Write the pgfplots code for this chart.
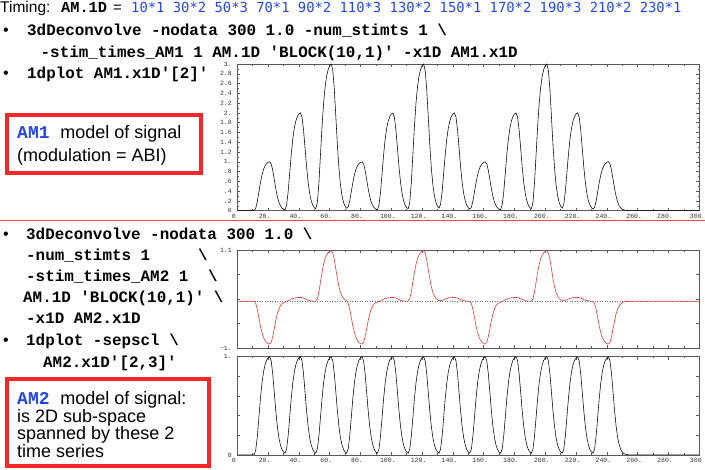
\documentclass[border=0pt]{standalone}
\usepackage{pgfplots}
\pgfplotsset{compat=1.18}
\usepackage{pgfplotstable}
\usepackage{fontspec}
\setmainfont{Liberation Sans}
\newfontfamily\cour{Liberation Mono}
\newfontfamily\dvmono{DejaVu Sans Mono}
\definecolor{blu}{RGB}{35,70,235}
\definecolor{boxred}{RGB}{245,40,40}
\definecolor{curvered}{RGB}{228,72,62}
\newcommand{\cmd}{\cour\bfseries\fontsize{15.9}{18}\selectfont}
\newcommand{\tickf}{\cour\fontsize{6.5}{7}\selectfont}
\newcommand{\bul}{\fontsize{16}{18}\selectfont\textbullet}
\newcommand{\q}{{\textquotesingle}}

\pgfplotstableread{
t am1 base am2
0 0 0 0
10 0 0 0
11 .004 .004 -.003
12 .054 .054 -.049
13 .188 .188 -.173
14 .378 .378 -.347
15 .570 .570 -.523
16 .728 .728 -.668
17 .843 .843 -.772
18 .917 .917 -.841
19 .963 .963 -.883
20 .989 .989 -.907
21 1.000 1.000 -.916
22 .958 .958 -.878
23 .827 .827 -.758
24 .639 .639 -.586
25 .448 .448 -.411
26 .290 .290 -.266
27 .176 .176 -.161
28 .101 .101 -.093
29 .056 .056 -.051
30 .030 .030 -.027
31 .023 .019 -.014
32 .115 .061 -.003
33 .380 .192 .012
34 .758 .380 .030
35 1.141 .571 .047
36 1.457 .729 .060
37 1.685 .843 .070
38 1.835 .917 .076
39 1.926 .963 .080
40 1.978 .989 .082
41 1.999 1.000 .083
42 1.915 .958 .080
43 1.654 .827 .069
44 1.278 .639 .053
45 .896 .448 .037
46 .580 .290 .024
47 .352 .176 .015
48 .203 .101 .008
49 .112 .056 .005
50 .060 .030 .002
51 .042 .019 .005
52 .176 .061 .059
53 .572 .192 .204
54 1.138 .380 .410
55 1.712 .571 .618
56 2.186 .729 .789
57 2.528 .843 .913
58 2.752 .917 .994
59 2.889 .963 1.043
60 2.967 .989 1.072
61 2.999 1.000 1.083
62 2.873 .958 1.037
63 2.480 .827 .896
64 1.917 .639 .692
65 1.344 .448 .485
66 .870 .290 .314
67 .528 .176 .191
68 .304 .101 .110
69 .168 .056 .061
70 .089 .030 .032
71 .050 .019 .013
72 .077 .061 -.041
73 .200 .192 -.168
74 .384 .380 -.345
75 .573 .571 -.522
76 .730 .729 -.667
77 .843 .843 -.772
78 .917 .917 -.841
79 .963 .963 -.883
80 .989 .989 -.907
81 1.000 1.000 -.916
82 .958 .958 -.878
83 .827 .827 -.758
84 .639 .639 -.586
85 .448 .448 -.411
86 .290 .290 -.266
87 .176 .176 -.161
88 .101 .101 -.093
89 .056 .056 -.051
90 .030 .030 -.027
91 .023 .019 -.014
92 .115 .061 -.003
93 .380 .192 .012
94 .758 .380 .030
95 1.141 .571 .047
96 1.457 .729 .060
97 1.685 .843 .070
98 1.835 .917 .076
99 1.926 .963 .080
100 1.978 .989 .082
101 1.999 1.000 .083
102 1.915 .958 .080
103 1.654 .827 .069
104 1.278 .639 .053
105 .896 .448 .037
106 .580 .290 .024
107 .352 .176 .015
108 .203 .101 .008
109 .112 .056 .005
110 .060 .030 .002
111 .042 .019 .005
112 .176 .061 .059
113 .572 .192 .204
114 1.138 .380 .410
115 1.712 .571 .618
116 2.186 .729 .789
117 2.528 .843 .913
118 2.752 .917 .994
119 2.889 .963 1.043
120 2.967 .989 1.072
121 2.999 1.000 1.083
122 2.873 .958 1.037
123 2.480 .827 .896
124 1.917 .639 .692
125 1.344 .448 .485
126 .870 .290 .314
127 .528 .176 .191
128 .304 .101 .110
129 .168 .056 .061
130 .089 .030 .032
131 .054 .019 .017
132 .130 .061 .013
133 .388 .192 .020
134 .762 .380 .034
135 1.143 .571 .049
136 1.458 .729 .061
137 1.686 .843 .070
138 1.835 .917 .076
139 1.926 .963 .080
140 1.978 .989 .082
141 1.999 1.000 .083
142 1.915 .958 .080
143 1.654 .827 .069
144 1.278 .639 .053
145 .896 .448 .037
146 .580 .290 .024
147 .352 .176 .015
148 .203 .101 .008
149 .112 .056 .005
150 .060 .030 .002
151 .035 .019 -.002
152 .069 .061 -.049
153 .196 .192 -.172
154 .382 .380 -.347
155 .572 .571 -.523
156 .729 .729 -.668
157 .843 .843 -.772
158 .917 .917 -.841
159 .963 .963 -.883
160 .989 .989 -.907
161 1.000 1.000 -.916
162 .958 .958 -.878
163 .827 .827 -.758
164 .639 .639 -.586
165 .448 .448 -.411
166 .290 .290 -.266
167 .176 .176 -.161
168 .101 .101 -.093
169 .056 .056 -.051
170 .030 .030 -.027
171 .023 .019 -.014
172 .115 .061 -.003
173 .380 .192 .012
174 .758 .380 .030
175 1.141 .571 .047
176 1.457 .729 .060
177 1.685 .843 .070
178 1.835 .917 .076
179 1.926 .963 .080
180 1.978 .989 .082
181 1.999 1.000 .083
182 1.915 .958 .080
183 1.654 .827 .069
184 1.278 .639 .053
185 .896 .448 .037
186 .580 .290 .024
187 .352 .176 .015
188 .203 .101 .008
189 .112 .056 .005
190 .060 .030 .002
191 .042 .019 .005
192 .176 .061 .059
193 .572 .192 .204
194 1.138 .380 .410
195 1.712 .571 .618
196 2.186 .729 .789
197 2.528 .843 .913
198 2.752 .917 .994
199 2.889 .963 1.043
200 2.967 .989 1.072
201 2.999 1.000 1.083
202 2.873 .958 1.037
203 2.480 .827 .896
204 1.917 .639 .692
205 1.344 .448 .485
206 .870 .290 .314
207 .528 .176 .191
208 .304 .101 .110
209 .168 .056 .061
210 .089 .030 .032
211 .054 .019 .017
212 .130 .061 .013
213 .388 .192 .020
214 .762 .380 .034
215 1.143 .571 .049
216 1.458 .729 .061
217 1.686 .843 .070
218 1.835 .917 .076
219 1.926 .963 .080
220 1.978 .989 .082
221 1.999 1.000 .083
222 1.915 .958 .080
223 1.654 .827 .069
224 1.278 .639 .053
225 .896 .448 .037
226 .580 .290 .024
227 .352 .176 .015
228 .203 .101 .008
229 .112 .056 .005
230 .060 .030 .002
231 .035 .019 -.002
232 .069 .061 -.049
233 .196 .192 -.172
234 .382 .380 -.347
235 .572 .571 -.523
236 .729 .729 -.668
237 .843 .843 -.772
238 .917 .917 -.841
239 .963 .963 -.883
240 .989 .989 -.907
241 1.000 1.000 -.916
242 .958 .958 -.878
243 .827 .827 -.758
244 .639 .639 -.586
245 .448 .448 -.411
246 .290 .290 -.266
247 .176 .176 -.161
248 .101 .101 -.093
249 .056 .056 -.051
250 .030 .030 -.027
251 .015 .015 -.014
252 .008 .008 -.007
253 .004 .004 -.004
254 .002 .002 -.002
255 .001 .001 -.001
256 0 0 0
300 0 0 0
}\dat

\pgfplotsset{
  dp/.style={
    scale only axis, width=462pt,
    xmin=0, xmax=300,
    axis line style={draw=black!65, line width=0.6pt},
    tick style={draw=black!65, line width=0.5pt},
    major tick length=3pt, minor tick length=1.6pt,
    tick align=inside,
    xtick={0,20,...,300}, minor x tick num=1,
    tick label style={font=\tickf, text=black!80},
    xticklabel style={xshift=-3.5pt},
    yticklabel style={xshift=-2pt},
  }
}

\begin{document}
\begin{tikzpicture}[x=1pt,y=1pt]
\path[use as bounding box] (0,0) rectangle (705,470);

% separator
\draw[boxred!85, line width=0.8pt] (0,250) -- (705,250);

% Timing line
\node[anchor=base west,inner sep=0] at (0,457.5) {\fontsize{15.5}{18}\selectfont Timing:};
\node[anchor=base west,inner sep=0] at (61,457.5) {\cour\bfseries\fontsize{15.3}{18}\selectfont AM.1D};
\node[anchor=base west,inner sep=0] at (113,457.5) {\fontsize{15}{18}\selectfont =};
\node[anchor=base west,inner sep=0] at (131,457.5) {\dvmono\fontsize{13.85}{16}\selectfont\color{blu}10*1 30*2 50*3 70*1 90*2 110*3 130*2 150*1 170*2 190*3 210*2 230*1};

% upper commands
\node[anchor=base west,inner sep=0] at (3,434) {\bul};
\node[anchor=base west,inner sep=0] at (27,434) {\cmd 3dDeconvolve -nodata 300 1.0 -num\_stimts 1 \textbackslash};
\node[anchor=base west,inner sep=0] at (40.5,412) {\cmd -stim\_times\_AM1 1 AM.1D \q BLOCK(10,1)\q{} -x1D AM1.x1D};
\node[anchor=base west,inner sep=0] at (3,391) {\bul};
\node[anchor=base west,inner sep=0] at (27,391) {\cmd 1dplot AM1.x1D\q[2]\q};

% box 1
\draw[boxred, line width=4pt, fill=white] (7,355) rectangle (201,297);
\node[anchor=base west,inner sep=0] at (17,331.5) {\fontsize{18}{20}\selectfont{\cour\bfseries\color{blu}AM1 }model of signal};
\node[anchor=base west,inner sep=0] at (17,308.5) {\fontsize{18}{20}\selectfont (modulation = ABI)};

% lower commands
\node[anchor=base west,inner sep=0] at (3,230) {\bul};
\node[anchor=base west,inner sep=0] at (26,230) {\cmd 3dDeconvolve -nodata 300 1.0 \textbackslash};
\node[anchor=base west,inner sep=0] at (26,209) {\cmd -num\_stimts 1};
\node[anchor=base west,inner sep=0] at (198,209) {\cmd \textbackslash};
\node[anchor=base west,inner sep=0] at (26,188) {\cmd -stim\_times\_AM2 1};
\node[anchor=base west,inner sep=0] at (208,188) {\cmd \textbackslash};
\node[anchor=base west,inner sep=0] at (23,167) {\cmd AM.1D \q BLOCK(10,1)\q{} \textbackslash};
\node[anchor=base west,inner sep=0] at (26,146) {\cmd -x1D AM2.x1D};
\node[anchor=base west,inner sep=0] at (3,124) {\bul};
\node[anchor=base west,inner sep=0] at (26,124) {\cmd 1dplot -sepscl \textbackslash};
\node[anchor=base west,inner sep=0] at (43,102) {\cmd AM2.x1D\q[2,3]\q};

% box 2
\draw[boxred, line width=4pt, fill=white] (7,91) rectangle (209,4);
\node[anchor=base west,inner sep=0] at (17,65) {\fontsize{18}{20}\selectfont{\cour\bfseries\color{blu}AM2 }model of signal:};
\node[anchor=base west,inner sep=0] at (17,47.5) {\fontsize{18}{20}\selectfont is 2D sub-space};
\node[anchor=base west,inner sep=0] at (17,30) {\fontsize{18}{20}\selectfont spanned by these 2};
\node[anchor=base west,inner sep=0] at (17,12.5) {\fontsize{18}{20}\selectfont time series};

% top plot: AM1
\begin{axis}[dp, at={(237.3pt,259.3pt)}, anchor=south west, height=146.7pt,
  ymin=0, ymax=3,
  ytick={0,0.2,0.4,0.6,0.8,1,1.2,1.4,1.6,1.8,2,2.2,2.4,2.6,2.8,3},
  yticklabels={0,.2,.4,.6,.8,1.,1.2,1.4,1.6,1.8,2.,2.2,2.4,2.6,2.8,3.},
  minor y tick num=1,
  xticklabels={0,20.,40.,60.,80.,100.,120.,140.,160.,180.,200.,220.,240.,260.,280.,300}]
\addplot[black, line width=0.55pt] table[x=t, y=am1] {\dat};
\end{axis}

% middle plot: AM2 modulated
\begin{axis}[dp, at={(237.3pt,122pt)}, anchor=south west, height=98pt,
  ymin=-1, ymax=1.1,
  ytick={-1,-0.475,0.05,0.575,1.1},
  yticklabels={−1.,,,,1.1},
  xticklabels={}]
\addplot[black!55, dotted, line width=0.5pt] coordinates {(0,0) (300,0)};
\addplot[curvered, line width=0.65pt] table[x=t, y=am2] {\dat};
\end{axis}

% bottom plot: AM2 base
\begin{axis}[dp, at={(237.3pt,15pt)}, anchor=south west, height=98.3pt,
  ymin=0, ymax=1,
  ytick={0,0.2,0.4,0.6,0.8,1},
  yticklabels={0,,,,,1.},
  xticklabels={0,20.,40.,60.,80.,100.,120.,140.,160.,180.,200.,220.,240.,260.,280.,300}]
\addplot[black, line width=0.55pt] table[x=t, y=base] {\dat};
\end{axis}
\end{tikzpicture}
\end{document}
